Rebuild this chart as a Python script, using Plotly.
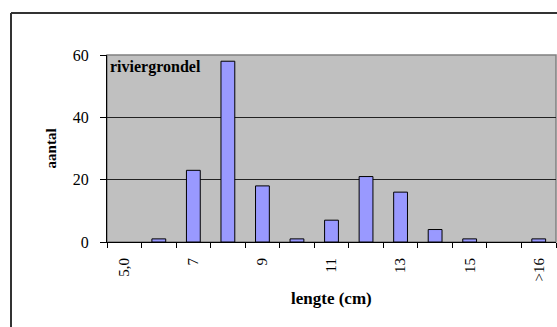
import plotly.graph_objects as go

categories = ["5,0", "6", "7", "8", "9", "10", "11", "12", "13", "14", "15", "16", ">16"]
counts = [0, 1, 23, 58, 18, 1, 7, 21, 16, 4, 1, 0, 1]
tick_labels = ["5,0", "", "7", "", "9", "", "11", "", "13", "", "15", "", ">16"]
y_ticks = [0, 20, 40, 60]

FONT = "Liberation Serif"

fig = go.Figure()
fig.add_trace(go.Bar(
    x=categories, y=counts,
    marker=dict(color="#9999ff",
                line=dict(color="black", width=[1 if c > 0 else 0 for c in counts])),
))

fig.update_layout(
    width=557, height=327,
    margin=dict(l=107, r=1, t=55, b=85),
    paper_bgcolor="white",
    plot_bgcolor="#c0c0c0",
    bargap=0.6,
    showlegend=False,
    font=dict(family=FONT, size=15, color="black"),
    xaxis=dict(
        type="category",
        tickmode="array", tickvals=categories, ticktext=tick_labels,
        tickson="boundaries",
        ticks="outside", ticklen=5, tickcolor="black", tickwidth=1,
        tickangle=-90,
        showline=True, linecolor="black", linewidth=1,
        showgrid=False,
        tickfont=dict(family=FONT, size=15),
        ticklabelstandoff=9,
    ),
    yaxis=dict(
        range=[0, 60],
        tickmode="array", tickvals=y_ticks,
        ticks="outside", ticklen=6, tickcolor="black", tickwidth=1,
        showline=True, linecolor="black", linewidth=1,
        showgrid=True, gridcolor="#222222", gridwidth=1,
        zeroline=False,
        tickfont=dict(family=FONT, size=16),
        ticklabelstandoff=8,
    ),
    shapes=[
        dict(type="rect", xref="paper", yref="paper", x0=0, y0=0, x1=1, y1=1,
             line=dict(color="#808080", width=1.5), layer="below"),
        dict(type="line", xref="paper", yref="paper", x0=-0.2138, y0=1.2246, x1=1.2, y1=1.2246,
             line=dict(color="#333333", width=2)),
        dict(type="line", xref="paper", yref="paper", x0=-0.2138, y0=1.2246, x1=-0.2138, y1=-0.6,
             line=dict(color="#333333", width=2)),
    ],
    annotations=[
        dict(text="<b>riviergrondel</b>", xref="paper", yref="paper", x=0.003, y=0.935,
             xanchor="left", yanchor="middle", showarrow=False,
             font=dict(family=FONT, size=16)),
        dict(text="<b>aantal</b>", xref="paper", yref="paper", x=-0.125, y=0.5,
             xanchor="center", yanchor="middle", textangle=-90, showarrow=False,
             font=dict(family=FONT, size=15)),
        dict(text="<b>lengte (cm)</b>", xref="paper", yref="paper", x=0.5, y=-0.3,
             xanchor="center", yanchor="middle", showarrow=False,
             font=dict(family=FONT, size=17)),
    ],
)

fig.write_html("out.html")
